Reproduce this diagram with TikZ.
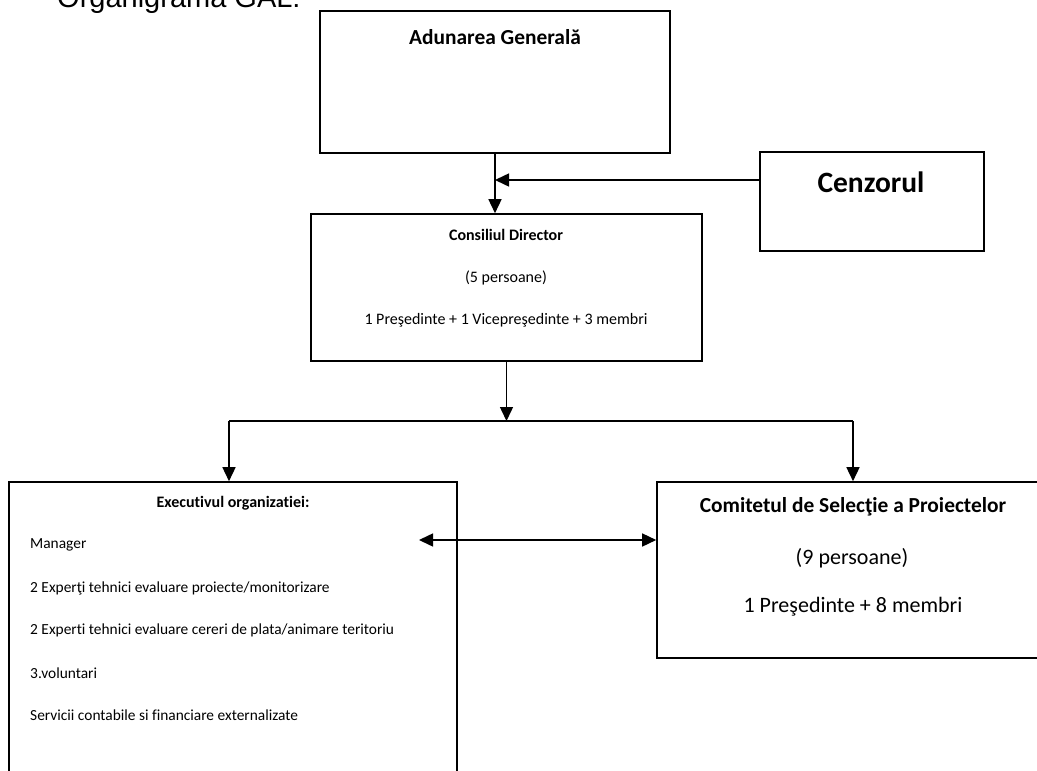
\documentclass[tikz,border=0pt]{standalone}
\usepackage{fontspec}
\setmainfont{Carlito}[Ligatures=NoCommon]
\newfontfamily\arialfont{Liberation Sans}
\usepackage{tikz}
\usetikzlibrary{arrows.meta}

\tikzset{
    box/.style={draw, line width=1.6pt, inner sep=0pt},
    arr/.style={line width=1.5pt, -{Triangle[length=14pt,width=13pt]}},
    txt/.style={inner sep=0pt, font=\fontsize{15.4}{18}\selectfont},
}

\begin{document}
\begin{tikzpicture}[x=1pt, y=-1pt]
        \useasboundingbox (0,0) rectangle (1037,771);
        \clip (0,0) rectangle (1037,771);

        \node[anchor=base west, inner sep=0pt, font=\arialfont\fontsize{29}{33}\selectfont] (titlu) at (57,8) {Organigrama GAL:};

        % casete
        \node[box, minimum width=350pt, minimum height=142pt] (ag) at (495,82) {};
        \node[txt, font=\bfseries\fontsize{21.4}{24}\selectfont] (agt) at (495,37) {Adunarea General\u{a}};

        \node[box, minimum width=224pt, minimum height=99pt] (cz) at (872,201.5) {};
        \node[txt, font=\bfseries\fontsize{29.5}{33}\selectfont] (czt) at (871,182) {Cenzorul};

        \node[box, minimum width=391pt, minimum height=147pt] (cd) at (506.5,287.5) {};
        \node[txt, font=\bfseries\fontsize{16}{19}\selectfont] (cdt) at (506,235) {Consiliul Director};
        \node[txt, font=\fontsize{16}{19}\selectfont] (cd2) at (506,278) {(5 persoane)};
        \node[txt, font=\fontsize{16}{19}\selectfont] (cd3) at (506,320) {1 Pre\c{s}edinte + 1 Vicepre\c{s}edinte + 3 membri};

        \node[box, minimum width=448pt, minimum height=320pt] (ex) at (233,642) {};
        \node[txt, font=\bfseries\fontsize{16}{19}\selectfont] (ext) at (233,503) {Executivul organizatiei:};
        \node[txt, anchor=west] (ex1) at (30,545) {Manager};
        \node[txt, anchor=west] (ex2) at (30,588) {2 Exper\c{t}i tehnici evaluare proiecte/monitorizare};
        \node[txt, anchor=west] (ex3) at (30,630) {2 Experti tehnici evaluare cereri de plata/animare teritoriu};
        \node[txt, anchor=west] (ex4) at (30,673) {3.voluntari};
        \node[txt, anchor=west] (ex5) at (30,715) {Servicii contabile si financiare externalizate};

        \node[box, minimum width=400pt, minimum height=176pt] (cs) at (857,570) {};
        \node[txt, font=\bfseries\fontsize{21.4}{25}\selectfont] (cst) at (853,507) {Comitetul de Selec\c{t}ie a Proiectelor};
        \node[txt, font=\fontsize{22}{25}\selectfont] (cs2) at (852,558) {(9 persoane)};
        \node[txt, font=\fontsize{22}{25}\selectfont] (cs3) at (853,607) {1 Pre\c{s}edinte + 8 membri};

        % legaturi
        \coordinate (cza) at (760,180);
        \coordinate (jl) at (229,421);
        \coordinate (jr) at (853,421);
        \coordinate (da) at (419,540);

        \draw[arr] (ag.south) -- (ag.south |- cd.north);
        \draw[arr] (cza) -- (cza -| ag.south);
        \draw[arr] (cd.south) -- (cd.south |- jl);
        \draw[line width=1.5pt] (jl) -- (jr);
        \draw[arr] (jl) -- (jl |- ex.north);
        \draw[arr] (jr) -- (jr |- cs.north);
        \draw[arr, {Triangle[length=14pt,width=13pt]}-{Triangle[length=14pt,width=13pt]}] (da) -- (da -| cs.west);
\end{tikzpicture}
\end{document}
